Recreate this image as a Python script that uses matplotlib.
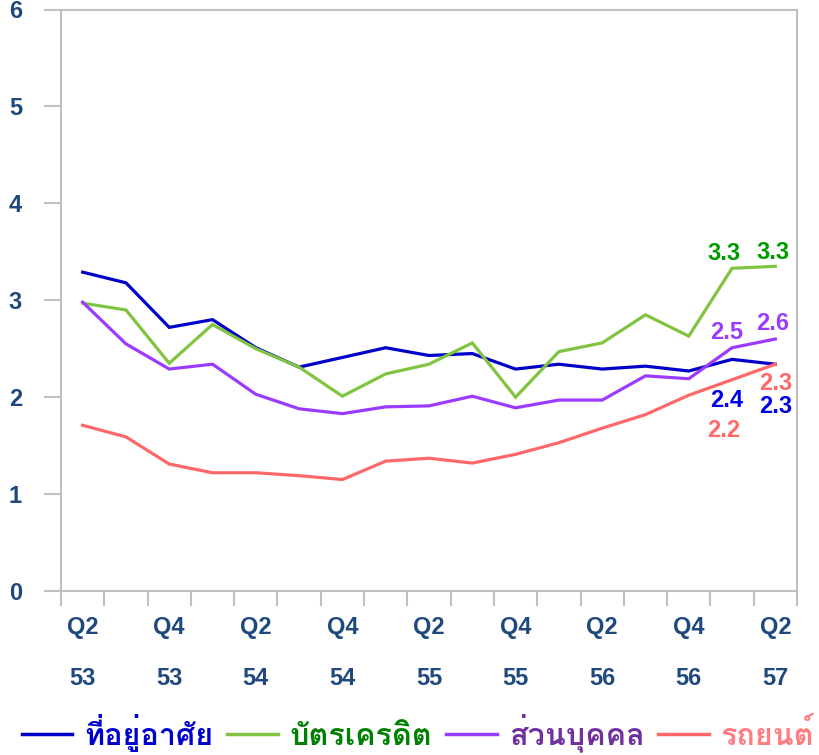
import numpy as np
import matplotlib
matplotlib.use('Agg')
import matplotlib.pyplot as plt
from matplotlib.lines import Line2D

### Data
quarters = ['Q2','Q3','Q4','Q1','Q2','Q3','Q4','Q1','Q2','Q3','Q4','Q1','Q2','Q3','Q4','Q1','Q2']
years = ['53','53','53','54','54','54','54','55','55','55','55','56','56','56','56','57','57']
housing = [3.29,3.18,2.72,2.80,2.51,2.31,2.41,2.51,2.43,2.45,2.29,2.34,2.29,2.32,2.27,2.39,2.34]
credit = [2.97,2.90,2.35,2.75,2.50,2.31,2.01,2.24,2.34,2.56,2.00,2.47,2.56,2.85,2.63,3.33,3.35]
personal = [2.98,2.55,2.29,2.34,2.03,1.88,1.83,1.90,1.91,2.01,1.89,1.97,1.97,2.22,2.19,2.51,2.60]
auto = [1.71,1.59,1.31,1.22,1.22,1.19,1.15,1.34,1.37,1.32,1.41,1.53,1.68,1.82,2.02,2.18,2.34]
names = ['ที่อยู่อาศัย','บัตรเครดิต','ส่วนบุคคล','รถยนต์']

### Figure
plt.rcParams['font.family'] = ['Liberation Sans','DejaVu Sans']
fig = plt.figure(figsize=(8.19,7.55),dpi=100)
ax = fig.add_axes([61/819,1-591/755,736/819,581.5/755])

x = np.arange(len(housing))+0.5
series = [housing,credit,personal,auto]
linecol = ['#0000C8','#80C441','#9B3BFF','#FF6868']
labcol = ['#0000E6','#009A00','#9B3BFF','#FF6868']
legcol = ['#0000CC','#008000','#7030A0','#FF7C80']
for s,c in zip(series,linecol):
    ax.plot(x,s,color=c,linewidth=2.3,solid_joinstyle='miter')

ax.set_xlim(0,17)
ax.set_ylim(0,6)
for sp in ax.spines.values():
    sp.set_color('#C0C0C0')
    sp.set_linewidth(1.5)

tc = '#1F497D'
ax.set_yticks(np.arange(0,7,1))
ax.set_yticklabels([str(v) for v in range(7)],fontsize=17,fontweight='bold',color=tc)
ax.tick_params(axis='y',length=12,width=1.5,color='#C0C0C0',pad=16)
ax.set_xticks(x[::2])
ax.set_xticklabels([q+'\n'+y for q,y in zip(quarters[::2],years[::2])],
                   fontsize=17,fontweight='bold',color=tc,linespacing=2.55)
ax.set_xticks(np.arange(0,18,1),minor=True)
ax.tick_params(axis='x',which='major',length=0,pad=18)
ax.tick_params(axis='x',which='minor',length=11,width=1.5,color='#C0C0C0')

### End labels
def lab(s,i,txt,dx,dy,c):
    ax.annotate(txt,xy=(x[i],s[i]),xytext=(dx,dy),textcoords='offset pixels',
                ha='center',va='center',fontsize=17,fontweight='bold',color=c)
lab(credit,15,'3.3',-8,15,labcol[1])
lab(credit,16,'3.3',-2,14,labcol[1])
lab(personal,15,'2.5',-5,15,labcol[2])
lab(personal,16,'2.6',-3,16,labcol[2])
lab(auto,16,'2.3',0,-19,labcol[3])
lab(auto,15,'2.2',-8,-51,labcol[3])
lab(housing,15,'2.4',-5,-41,labcol[0])
lab(housing,16,'2.3',0,-42,labcol[0])

### Legend
handles = [Line2D([],[],color=c,linewidth=2.5) for c in linecol]
leg = fig.legend(handles,names,loc='center',bbox_to_anchor=(418/819,1-733/755),ncol=4,
                 frameon=False,handlelength=1.65,handletextpad=0.4,columnspacing=0.45,
                 borderpad=0,borderaxespad=0,
                 prop={'family':['Loma','DejaVu Sans'],'size':22,'weight':'bold'})
for t,c in zip(leg.get_texts(),legcol):
    t.set_color(c)

fig.savefig('out.png',dpi=100)
